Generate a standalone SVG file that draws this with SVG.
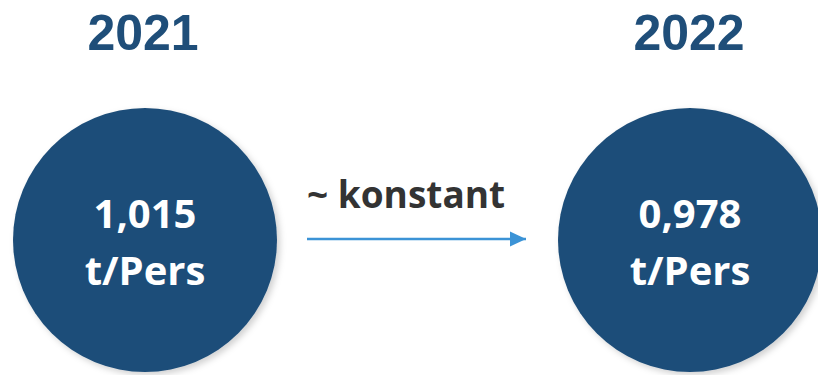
<svg xmlns="http://www.w3.org/2000/svg" width="818" height="375" viewBox="0 0 818 375">
<style>
.year{font-family:"Liberation Sans",Arial,sans-serif;font-weight:bold;font-size:50px;fill:#1F4E79;text-anchor:middle}
.val{font-family:"Open Sans","Noto Sans",sans-serif;font-weight:bold;font-size:40px;fill:#FFFFFF;text-anchor:middle}
.lbl{font-family:"Open Sans","Noto Sans",sans-serif;font-weight:bold;font-size:37px;fill:#333333}
.circ{fill:#1F4E79;filter:url(#sh)}
</style>
<defs>
<filter id="sh" x="-10%" y="-10%" width="125%" height="125%">
<feDropShadow dx="3" dy="3" stdDeviation="3" flood-color="#000" flood-opacity="0.18"/>
</filter>
<marker id="ah" markerWidth="16" markerHeight="16" refX="16" refY="8" orient="auto" markerUnits="userSpaceOnUse">
<path d="M0,0.5 L16,8 L0,15.5 Z" fill="#3B93D6"/>
</marker>
</defs>
<rect width="818" height="375" fill="#FFFFFF"/>
<g id="year2021"><text class="year" x="143" y="50">2021</text></g>
<g id="year2022"><text class="year" x="689" y="50">2022</text></g>
<g id="node2021">
<circle class="circ" cx="145" cy="240" r="132"/>
<text class="val" x="145" y="228">1,015</text>
<text class="val" x="145" y="285">t/Pers</text>
</g>
<g id="node2022">
<circle class="circ" cx="690" cy="240" r="132"/>
<text class="val" x="690" y="228">0,978</text>
<text class="val" x="690" y="285">t/Pers</text>
</g>
<g id="connectors">
<line x1="307" y1="239" x2="526" y2="239" stroke="#3B93D6" stroke-width="2.5" marker-end="url(#ah)"/>
<text class="lbl" x="307" y="208">~ konstant</text>
</g>
</svg>
